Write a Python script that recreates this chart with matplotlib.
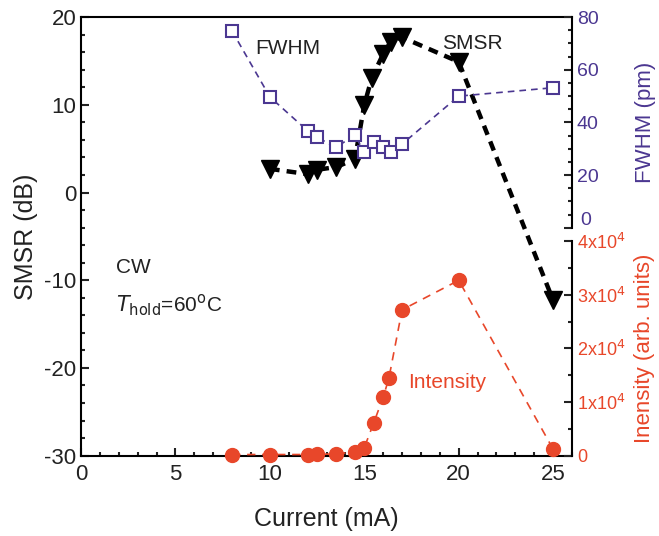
import numpy as np
import matplotlib
matplotlib.use("Agg")
import matplotlib.pyplot as plt
from matplotlib.ticker import MultipleLocator, FixedLocator

plt.rcParams['font.family'] = ['Liberation Sans', 'DejaVu Sans']
plt.rcParams['axes.unicode_minus'] = False

# SMSR (dB)
smsr_x = [10, 12, 12.5, 13.5, 14.5, 15, 15.4, 16, 16.4, 17, 20, 25]
smsr_y = [2.7, 2.1, 2.6, 2.9, 3.8, 10.0, 13.1, 15.8, 17.2, 17.7, 14.9, -12.3]

# FWHM (pm)
fwhm_x = [8, 10, 12, 12.5, 13.5, 14.5, 15, 15.5, 16, 16.4, 17, 20, 25]
fwhm_y = [74.7, 49.7, 36.8, 34.4, 30.5, 35.3, 28.6, 32.4, 30.5, 28.6, 31.8, 50.0, 53.2]
fwhm_ticks = [0, 20, 40, 60, 80]

# Intensity (arb. units)
int_x = [8, 10, 12, 12.5, 13.5, 14.5, 15, 15.5, 16, 16.3, 17, 20, 25]
int_y = [200, 200, 200, 250, 300, 700, 1500, 6100, 10900, 14400, 27200, 32700, 1200]
int_ticks = [0, 10000, 20000, 30000, 40000]
int_labels = ['0', r'1x10$^4$', r'2x10$^4$', r'3x10$^4$', r'4x10$^4$']

purple = '#4b3791'
orange = '#e8472a'
dark = '#222222'

fig = plt.figure(figsize=(6.59, 5.36), dpi=100)
L, R = 0.123, 0.868
ax = fig.add_axes([L, 0.150, R - L, 0.818])
ax_int = fig.add_axes([L, 0.150, R - L, 0.400])
ax_fw = fig.add_axes([L, 0.575, R - L, 0.393])

# main SMSR axis
ax.plot(smsr_x, smsr_y, color='black', ls=(0, (2.2, 1.6)), lw=3.2,
        marker='v', ms=13, mfc='black', mec='black', zorder=3)
ax.set_xlim(0, 26)
ax.set_ylim(-30, 20)
ax.xaxis.set_major_locator(FixedLocator([0, 5, 10, 15, 20, 25]))
ax.xaxis.set_minor_locator(MultipleLocator(1))
ax.yaxis.set_major_locator(MultipleLocator(10))
ax.yaxis.set_minor_locator(MultipleLocator(2))
ax.tick_params(which='both', direction='in', top=False, right=False,
               labelsize=16, width=1.5, colors=dark)
ax.tick_params(which='major', length=6)
ax.tick_params(which='minor', length=3)
ax.tick_params(axis='x', pad=6)
for s in ax.spines.values():
    s.set_linewidth(1.5)
ax.spines['right'].set_visible(False)
ax.set_xlabel('Current (mA)', fontsize=18, color=dark, labelpad=16)
ax.set_ylabel('SMSR (dB)', fontsize=18, color=dark, labelpad=4)
ax.text(9.2, 16.4, 'FWHM', fontsize=15, color=dark, va='center')
ax.text(19.1, 17.0, 'SMSR', fontsize=15, color=dark, va='center')
ax.text(17.3, -21.7, 'Intensity', fontsize=15, color=orange, va='center')
ax.text(1.85, -8.6, 'CW', fontsize=15, color=dark, va='center')
ax.text(1.85, -12.8, r'$T_{\rm hold}$=60$^{\rm o}$C', fontsize=15, color=dark,
        va='center')

# intensity axis (lower right)
ax_int.plot(int_x, int_y, color=orange, ls=(0, (5, 4)), lw=1.2,
            marker='o', ms=10, mfc=orange, mec=orange, zorder=3, clip_on=False)
ax_int.set_xlim(0, 26)
ax_int.set_ylim(0, 40000)
ax_int.patch.set_visible(False)
for k in ['left', 'top', 'bottom']:
    ax_int.spines[k].set_visible(False)
ax_int.spines['right'].set_linewidth(1.5)
ax_int.yaxis.tick_right()
ax_int.yaxis.set_label_position('right')
ax_int.set_xticks([])
ax_int.yaxis.set_minor_locator(MultipleLocator(5000))
ax_int.set_yticks(int_ticks)
ax_int.set_yticklabels(int_labels)
ax_int.tick_params(which='both', direction='in', labelsize=13, width=1.5,
                   labelcolor=orange, color=dark)
ax_int.tick_params(which='major', length=6)
ax_int.tick_params(which='minor', length=3)
ax_int.set_ylabel('Inensity (arb. units)', fontsize=16, color=orange, labelpad=6)

# FWHM axis (upper right)
ax_fw.plot(fwhm_x, fwhm_y, color=purple, ls=(0, (4, 3)), lw=1.2,
           marker='s', ms=8, mfc='white', mec=purple, mew=1.5, zorder=4,
           clip_on=False)
ax_fw.set_xlim(0, 26)
ax_fw.set_ylim(0, 80)
ax_fw.patch.set_visible(False)
for k in ['left', 'top', 'bottom']:
    ax_fw.spines[k].set_visible(False)
ax_fw.spines['right'].set_linewidth(1.5)
ax_fw.yaxis.tick_right()
ax_fw.yaxis.set_label_position('right')
ax_fw.set_xticks([])
ax_fw.set_yticks(fwhm_ticks)
# the "0" label sits a little higher so it clears the 4x10^4 label below
ax_fw.set_yticklabels([''] + [str(t) for t in fwhm_ticks[1:]])
ax_fw.annotate(str(fwhm_ticks[0]), xy=(1, 0), xycoords='axes fraction',
               xytext=(6, 5), textcoords='offset points', ha='left',
               va='center', fontsize=14, color=purple)
ax_fw.yaxis.set_minor_locator(MultipleLocator(5))
ax_fw.tick_params(which='both', direction='in', labelsize=14, width=1.5,
                  labelcolor=purple, color=dark)
ax_fw.tick_params(which='major', length=6)
ax_fw.tick_params(which='minor', length=3)
ax_fw.set_ylabel('FWHM (pm)', fontsize=16, color=purple, labelpad=26)

fig.savefig('out.png', dpi=100)
